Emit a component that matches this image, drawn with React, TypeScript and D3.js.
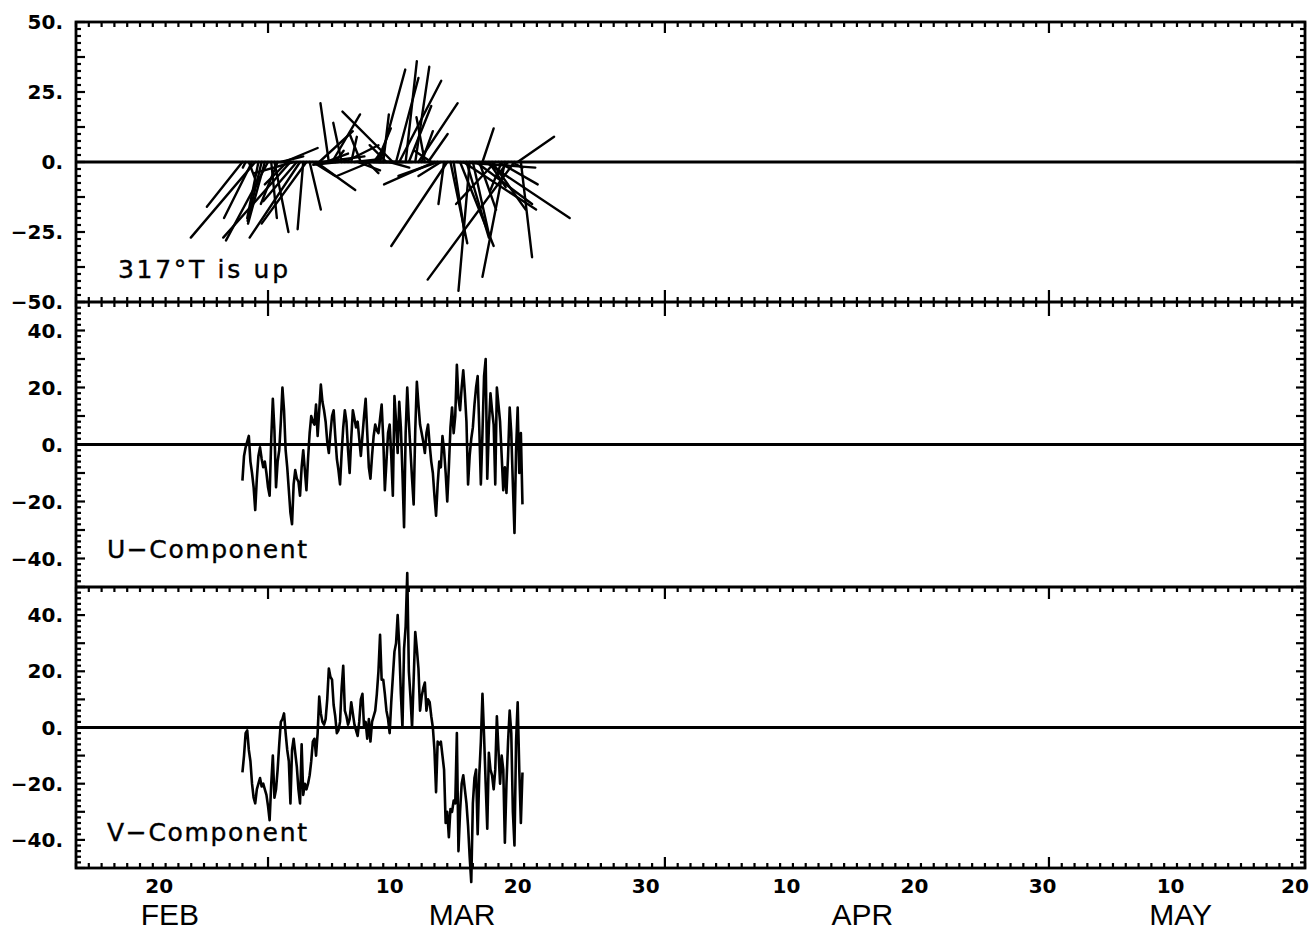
import React from 'react';
import * as d3 from 'd3';

// ---------- data (3-hourly, starting 27 Feb 1993 00:00 UTC) ----------
const SERIES_START = '1993-02-27T00:00:00Z';
const STEP_HOURS = 3;

const U_COMPONENT = [
  -12.7, -4, -1, 1, 3, -6, -10, -15,
  -23, -12, -4, -1, -5, -8, -6, -10,
  -15, -18, 2, 16, 5, -15, -6, -2,
  8, 20, 12, -2, -8, -16, -24, -28,
  -14, -9, -12, -13, -18, -8, -2, -9,
  -16, -5, 4, 10, 8, 7, 14, 3,
  12, 21, 15, 12, 8, 1, -3, 4,
  10, 12, 3, -5, -9, -14, -3, 6,
  12, 8, -2, -10, 2, 12, 9, 6,
  8, 2, -4, 3, 10, 16, 4, -8,
  -12, -4, 3, 7, 5, 4, 9, 14,
  2, -16, -6, 4, 7, -4, -18, 17,
  8, -3, 15, 6, -10, -29, 4, 20,
  8, -2, -12, -21, 5, 22, 14, 7,
  4, 1, -3, 4, 7, 0, -6, -10,
  -18, -25, -14, -6, -8, 3, -2, -10,
  -20, -8, 6, 13, 4, 10, 28, 16,
  12, 20, 26, 18, 8, -14, -4, 2,
  6, 14, 20, 24, 6, -14, 4, 24,
  30, -12, 6, 18, 12, 7, -14, 20,
  14, 8, -4, -16, -8, -17, -4, 13,
  4, -14, -31, -2, 13, -10, 4, -21,
];

const V_COMPONENT = [
  -16, -10, -2, -1, -8, -12, -20, -25,
  -27, -22, -20, -18, -21, -20, -22, -24,
  -28, -33, -20, -10, -25, -22, -15, -6,
  2, 3, 5, -2, -8, -12, -27, -8,
  -4, -9, -14, -22, -27, -6, -24, -20,
  -22, -20, -17, -12, -5, -4, -10, -2,
  11, 5, 2, 1, 3, 10, 21, 18,
  17, 8, 4, -2, -1, 2, 14, 22,
  6, 4, 1, 3, 9, 5, 1, -1,
  -3, 2, 10, 12, 0, 2, -4, 3,
  -5, 2, 4, 6, 12, 20, 33, 17,
  17, 12, 6, 3, -2, 9, 18, 27,
  30, 40, 29, 12, 0, 28, 36, 55,
  20, 11, 0, 17, 34, 28, 21, 6,
  11, 14, 16, 6, 10, 9, 4, 0,
  -8, -23, -5, -6, -5, -10, -15, -34,
  -30, -39, -29, -30, -26, -27, -2, -44,
  -30, -20, -17, -22, -27, -35, -46, -55,
  -27, -18, -15, -38, -17, -5, 12, -3,
  -20, -36, -9, -15, -17, -22, -15, 4,
  -8, -20, -10, -15, -41, -20, -5, 6,
  -2, -30, -42, -5, 9, -15, -34, -16,
];

const STICK_EVERY = 2;

const X_DOMAIN = ['1993-02-14T00:00:00Z', '1993-05-21T00:00:00Z'];
const DAY_LABEL_DATES = ['1993-02-20', '1993-03-10', '1993-03-20', '1993-03-30', '1993-04-10', '1993-04-20', '1993-04-30', '1993-05-10', '1993-05-20'];
const DAY_LABEL_TEXT = ['20', '10', '20', '30', '10', '20', '30', '10', '20'];
const MONTH_NAMES = ['FEB', 'MAR', 'APR', 'MAY'];
const MONTH_LABEL_DATES = ['1993-02-21T08:00:00Z', '1993-03-16T04:00:00Z', '1993-04-16T10:00:00Z', '1993-05-11T07:00:00Z'];

const STICK_TICKS = [50, 25, 0, -25, -50];
const STICK_TICK_TEXT = ['50.', '25.', '0.', '\u221225.', '\u221250.'];
const COMP_TICKS = [40, 20, 0, -20, -40];
const COMP_TICK_TEXT = ['40.', '20.', '0.', '\u221220.', '\u221240.'];

const STICK_LABEL = '317\u00B0T is up';
const U_LABEL = 'U\u2212Component';
const V_LABEL = 'V\u2212Component';

// ---------- layout ----------
const W = 1311;
const H = 934;
const LEFT = 76;
const RIGHT = 1305;
const P1 = { top: 22, bottom: 302 };
const P2 = { top: 302, bottom: 587 };
const P3 = { top: 587, bottom: 868 };

const AXIS_W = 2.8;
const LINE_W = 2.6;

export default function App() {
  const x = d3
    .scaleUtc()
    .domain(X_DOMAIN.map((d) => new Date(d)))
    .range([LEFT, RIGHT]);
  const yS = d3.scaleLinear().domain([-50, 50]).range([P1.bottom, P1.top]);
  const yU = d3.scaleLinear().domain([-50, 50]).range([P2.bottom, P2.top]);
  const yV = d3.scaleLinear().domain([-50, 50]).range([P3.bottom, P3.top]);

  const t0 = new Date(SERIES_START).getTime();
  const times = U_COMPONENT.map((_, i) => new Date(t0 + i * STEP_HOURS * 3600e3));

  const lineU = d3
    .line<number>()
    .x((_, i) => x(times[i]))
    .y((d) => yU(d))
    .curve(d3.curveLinear);
  const lineV = d3
    .line<number>()
    .x((_, i) => x(times[i]))
    .y((d) => yV(d))
    .curve(d3.curveLinear);

  const k = yS(0) - yS(1); // px per unit (same in x for sticks)
  const sticks = U_COMPONENT.map((u, i) => ({ u, v: V_COMPONENT[i], t: times[i], i })).filter(
    (d) => d.i % STICK_EVERY === 0
  );

  const [d0, d1] = x.domain();
  const days = d3.utcDay.range(d0, d3.utcDay.offset(d1, 1));
  const isMonth = (d: Date) => d.getUTCDate() === 1;

  const xTicks: React.ReactNode[] = [];
  days.forEach((d, i) => {
    const xx = x(d);
    const m = isMonth(d);
    const s = m ? 11 : 5;
    xTicks.push(<line key={`a${i}`} x1={xx} x2={xx} y1={P1.top} y2={P1.top + s} />);
    xTicks.push(<line key={`b${i}`} x1={xx} x2={xx} y1={P1.bottom - (m ? 12 : 5)} y2={P1.bottom + (m ? 14 : 5)} />);
    xTicks.push(<line key={`c${i}`} x1={xx} x2={xx} y1={P3.top} y2={P3.top + (m ? 12 : 5)} />);
    xTicks.push(<line key={`d${i}`} x1={xx} x2={xx} y1={P3.bottom} y2={P3.bottom - s} />);
  });

  const yTicks = (
    y: d3.ScaleLinear<number, number>,
    minor: number,
    major: number,
    key: string
  ) => {
    const out: React.ReactNode[] = [];
    const vals = d3.range(-50, 50 + 1e-6, minor);
    vals.forEach((v, j) => {
      const isMaj = Math.abs(v / major - Math.round(v / major)) < 1e-6;
      const len = isMaj ? 9 : 5;
      const yy = y(v);
      out.push(<line key={`${key}l${j}`} x1={LEFT} x2={LEFT + len} y1={yy} y2={yy} />);
      out.push(<line key={`${key}r${j}`} x1={RIGHT} x2={RIGHT - len} y1={yy} y2={yy} />);
    });
    return out;
  };

  const yLabelStyle: React.CSSProperties = {
    fontFamily: '"DejaVu Sans", sans-serif',
    fontWeight: 'bold',
    fontSize: 20,
  };

  const dayLabelX = (d: string) => {
    const xx = x(d3.utcHour.offset(new Date(d + 'T00:00:00Z'), 12));
    return Math.min(xx, W - 16);
  };

  return (
    <svg
      width={W}
      height={H}
      viewBox={`0 0 ${W} ${H}`}
      style={{ position: 'absolute', left: 0, top: 0, background: '#fff' }}
    >
      <rect x={0} y={0} width={W} height={H} fill="#fff" />
      <g stroke="#000" strokeWidth={AXIS_W} fill="none">
        <rect x={LEFT} y={P1.top} width={RIGHT - LEFT} height={P3.bottom - P1.top} />
        <line x1={LEFT} x2={RIGHT} y1={P1.bottom} y2={P1.bottom} />
        <line x1={LEFT} x2={RIGHT} y1={P2.bottom} y2={P2.bottom} />
        <line x1={LEFT} x2={RIGHT} y1={yS(0)} y2={yS(0)} />
        <line x1={LEFT} x2={RIGHT} y1={yU(0)} y2={yU(0)} />
        <line x1={LEFT} x2={RIGHT} y1={yV(0)} y2={yV(0)} />
      </g>
      <g stroke="#000" strokeWidth={2.2}>
        {xTicks}
        {yTicks(yS, 2.5, 12.5, 's')}
        {yTicks(yU, 2, 10, 'u')}
        {yTicks(yV, 2, 10, 'v')}
      </g>

      <g stroke="#000" strokeWidth={2.4} strokeLinecap="round">
        {sticks.map((s) => {
          const xx = x(s.t);
          return (
            <line key={s.i} x1={xx} y1={yS(0)} x2={xx + s.u * k} y2={yS(0) - s.v * k} />
          );
        })}
      </g>

      <path d={lineU(U_COMPONENT) || ''} fill="none" stroke="#000" strokeWidth={LINE_W} strokeLinejoin="round" />
      <path d={lineV(V_COMPONENT) || ''} fill="none" stroke="#000" strokeWidth={LINE_W} strokeLinejoin="round" />

      <g style={yLabelStyle} textAnchor="end" fill="#000">
        {STICK_TICKS.map((v, i) => (
          <text key={`sl${i}`} x={63} y={yS(v) + 7}>
            {STICK_TICK_TEXT[i]}
          </text>
        ))}
        {COMP_TICKS.map((v, i) => (
          <text key={`ul${i}`} x={63} y={yU(v) + 7}>
            {COMP_TICK_TEXT[i]}
          </text>
        ))}
        {COMP_TICKS.map((v, i) => (
          <text key={`vl${i}`} x={63} y={yV(v) + 7}>
            {COMP_TICK_TEXT[i]}
          </text>
        ))}
      </g>

      <g style={yLabelStyle} textAnchor="middle" fill="#000">
        {DAY_LABEL_DATES.map((d, i) => (
          <text key={`dl${i}`} x={dayLabelX(d)} y={893}>
            {DAY_LABEL_TEXT[i]}
          </text>
        ))}
      </g>
      <g
        style={{ fontFamily: '"Liberation Sans", sans-serif', fontSize: 30 }}
        textAnchor="middle"
        fill="#000"
      >
        {MONTH_NAMES.map((m, i) => (
          <text key={`ml${i}`} x={x(new Date(MONTH_LABEL_DATES[i]))} y={925}>
            {m}
          </text>
        ))}
      </g>

      <g style={{ fontFamily: '"DejaVu Sans", sans-serif', fontSize: 25 }} fill="#000" stroke="#000" strokeWidth={0.4}>
        <text x={118} y={278} textLength={170} lengthAdjust="spacing">
          {STICK_LABEL}
        </text>
        <text x={107} y={558} textLength={200} lengthAdjust="spacing">
          {U_LABEL}
        </text>
        <text x={107} y={841} textLength={200} lengthAdjust="spacing">
          {V_LABEL}
        </text>
      </g>
    </svg>
  );
}
